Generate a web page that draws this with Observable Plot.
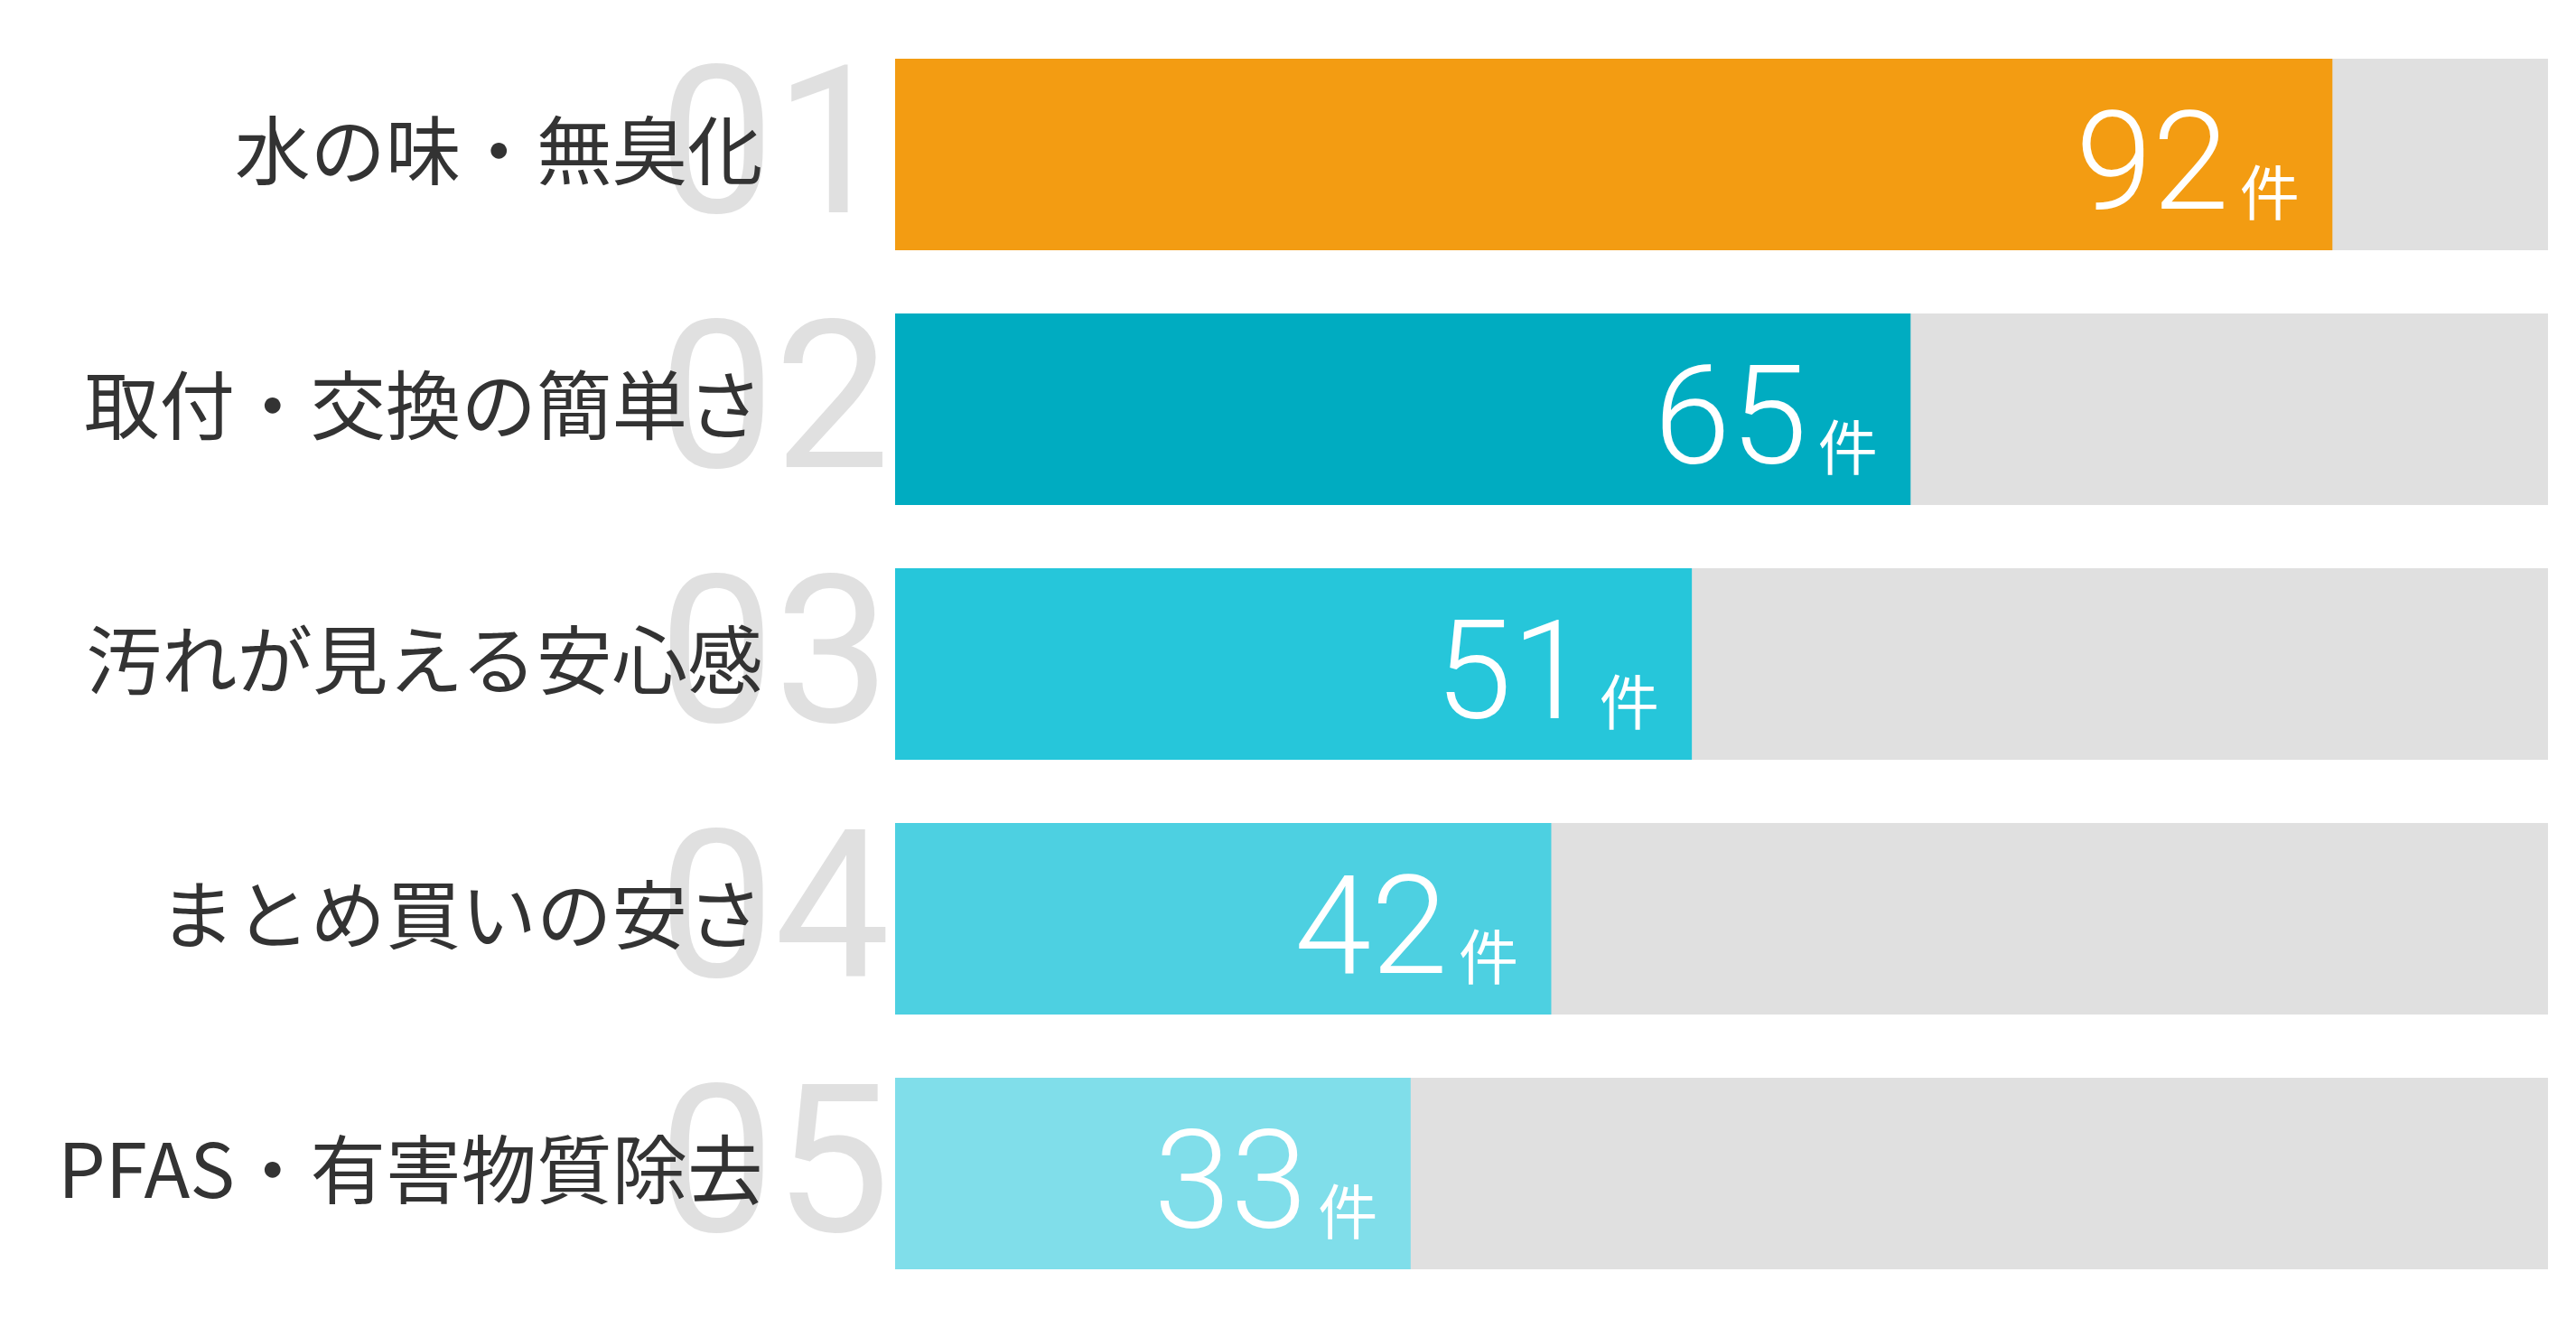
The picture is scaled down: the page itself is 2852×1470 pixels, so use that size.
<!DOCTYPE html>
<html>
<head>
<meta charset="utf-8">
<script src="https://cdn.jsdelivr.net/npm/d3@7"></script>
<script src="https://cdn.jsdelivr.net/npm/@observablehq/plot@0.6"></script>
<style>
  html, body { margin: 0; padding: 0; background: #ffffff; }
  #chart svg { display: block; }
</style>
</head>
<body>
<div id="chart"></div>
<script>
const categories = ["水の味・無臭化", "取付・交換の簡単さ", "汚れが見える安心感", "まとめ買いの安さ", "PFAS・有害物質除去"];
const values = [92, 65, 51, 42, 33];
const ranks = ["01", "02", "03", "04", "05"];
const barColors = ["#F39C12", "#00ACC1", "#26C6DA", "#4DD0E1", "#80DEEA"];
const unitLabel = "件";
const xMax = 105.8;

const rows = categories.map((c, i) => ({label: c, value: values[i], rank: ranks[i], color: barColors[i]}));

const numFont = "Roboto, 'Liberation Sans', sans-serif";
const jpFont = "'Noto Sans CJK JP', sans-serif";

const chart = Plot.plot({
  width: 2852,
  height: 1470,
  marginLeft: 991,
  marginRight: 31,
  marginTop: 65,
  marginBottom: 65.5,
  style: {background: "#ffffff", fontFamily: jpFont},
  x: {domain: [0, xMax], axis: null},
  y: {domain: categories, paddingInner: 0.25, paddingOuter: 0, axis: null},
  color: {type: "identity"},
  marks: [
    Plot.barX(rows, {y: "label", x1: 0, x2: xMax, fill: "#E0E0E0"}),
    Plot.barX(rows, {y: "label", x: "value", fill: "color"}),
    Plot.text(rows, {y: "label", x: 0, text: "rank", textAnchor: "end", lineAnchor: "bottom", dx: -6, dy: 63,
      fontSize: 228, fontWeight: 400, fontFamily: numFont, fill: "#E0E0E0"}),
    Plot.text(rows, {y: "label", x: 0, text: "label", textAnchor: "end", dx: -147,
      fontSize: 83.5, fontFamily: jpFont, fill: "#333333"}),
    Plot.text(rows, {y: "label", x: "value", text: () => unitLabel, textAnchor: "end", lineAnchor: "bottom", dx: -37, dy: 66,
      fontSize: 66, fontFamily: jpFont, fill: "#ffffff"}),
    Plot.text(rows, {y: "label", x: "value", text: d => String(d.value), textAnchor: "end", lineAnchor: "bottom", dx: -115, dy: 59,
      fontSize: 153, fontWeight: 300, fontFamily: numFont, fill: "#ffffff"})
  ]
});
document.getElementById("chart").appendChild(chart);
</script>
</body>
</html>
